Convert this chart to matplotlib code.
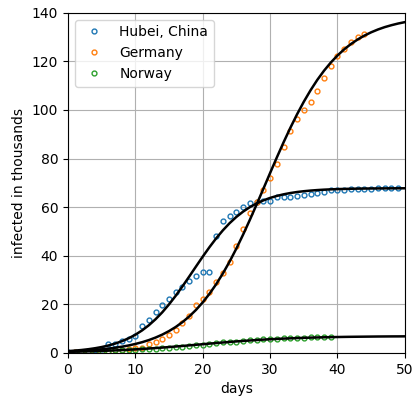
import matplotlib
matplotlib.use('Agg')
import matplotlib.pyplot as plt

# cumulative confirmed cases (thousands), day 0 = first day above 100 cases
hubei = [0.444, 0.444, 0.549, 0.761, 1.058, 1.423, 3.554, 3.554, 4.903, 5.806,
         7.153, 11.177, 13.522, 16.678, 19.665, 22.112, 24.953, 27.100, 29.631, 31.728,
         33.366, 33.366, 48.206, 54.406, 56.249, 58.182, 59.989, 61.682, 62.031, 62.442,
         62.662, 64.084, 64.084, 64.287, 64.786, 65.187, 65.596, 65.914, 66.337, 66.907,
         67.103, 67.217, 67.332, 67.466, 67.592, 67.666, 67.707, 67.743, 67.760, 67.773]
germany = [0.130, 0.159, 0.196, 0.262, 0.482, 0.670, 0.799, 1.040, 1.176, 1.457,
           1.908, 2.078, 3.675, 4.585, 5.795, 7.272, 9.257, 12.327, 15.320, 19.848,
           22.213, 24.873, 29.056, 32.986, 37.323, 43.938, 50.871, 57.695, 62.095, 66.885,
           71.808, 77.872, 84.794, 91.159, 96.092, 100.123, 103.374, 107.663, 113.296, 118.181,
           122.171, 124.908, 127.854, 130.072, 131.359]
norway = [0.108, 0.147, 0.176, 0.205, 0.400, 0.598, 0.702, 0.996, 1.090, 1.221,
          1.333, 1.463, 1.550, 1.746, 1.914, 2.118, 2.385, 2.621, 2.863, 3.084,
          3.369, 3.755, 4.015, 4.284, 4.445, 4.641, 4.863, 5.147, 5.370, 5.550,
          5.687, 5.865, 6.086, 6.086, 6.211, 6.314, 6.409, 6.525, 6.603, 6.623]

# fitted curves, one value per day 0..50
fit_days = list(range(51))
fit_hubei = [0.73, 0.93, 1.18, 1.50, 1.90, 2.40, 3.03, 3.82, 4.80, 6.00,
             7.46, 9.24, 11.35, 13.84, 16.70, 19.95, 23.53, 27.39, 31.43, 35.54,
             39.61, 43.51, 47.16, 50.47, 53.42, 55.98, 58.17, 60.01, 61.53, 62.78,
             63.80, 64.62, 65.28, 65.81, 66.23, 66.56, 66.82, 67.03, 67.20, 67.33,
             67.43, 67.51, 67.57, 67.62, 67.66, 67.69, 67.71, 67.73, 67.75, 67.76, 67.77]
fit_germany = [0.58, 0.70, 0.84, 1.01, 1.22, 1.46, 1.76, 2.12, 2.54, 3.05,
               3.67, 4.39, 5.26, 6.30, 7.52, 8.97, 10.67, 12.67, 14.99, 17.68,
               20.77, 24.30, 28.28, 32.72, 37.63, 42.98, 48.72, 54.79, 61.10, 67.54,
               74.05, 80.46, 86.69, 92.63, 98.22, 103.39, 108.11, 112.38, 116.17, 119.52,
               122.44, 124.99, 127.17, 129.05, 130.64, 131.99, 133.14, 134.11, 134.91, 135.60, 136.17]
fit_norway = [0.42, 0.48, 0.55, 0.62, 0.71, 0.80, 0.91, 1.02, 1.15, 1.29,
              1.44, 1.61, 1.79, 1.98, 2.18, 2.40, 2.62, 2.85, 3.09, 3.33,
              3.57, 3.81, 4.05, 4.28, 4.50, 4.72, 4.92, 5.11, 5.29, 5.46,
              5.61, 5.75, 5.88, 5.99, 6.10, 6.19, 6.28, 6.35, 6.42, 6.48,
              6.53, 6.58, 6.62, 6.65, 6.68, 6.71, 6.74, 6.76, 6.78, 6.79, 6.81]

fig = plt.figure(figsize=(4.14, 4.01), dpi=100)
ax = fig.add_axes([0.164, 0.120, 0.814, 0.848])

for name, vals in [('Hubei, China', hubei), ('Germany', germany), ('Norway', norway)]:
    ax.plot(range(len(vals)), vals, 'o', mfc='none', markersize=3.5, label=name)

for f in [fit_hubei, fit_germany, fit_norway]:
    ax.plot(fit_days, f, 'k-', linewidth=1.8)

ax.set_xlim(0, 50)
ax.set_ylim(0, 140)
ax.set_xlabel('days')
ax.set_ylabel('infected in thousands')
ax.grid()
ax.legend(loc='upper left')
fig.savefig('out.png', dpi=100)
